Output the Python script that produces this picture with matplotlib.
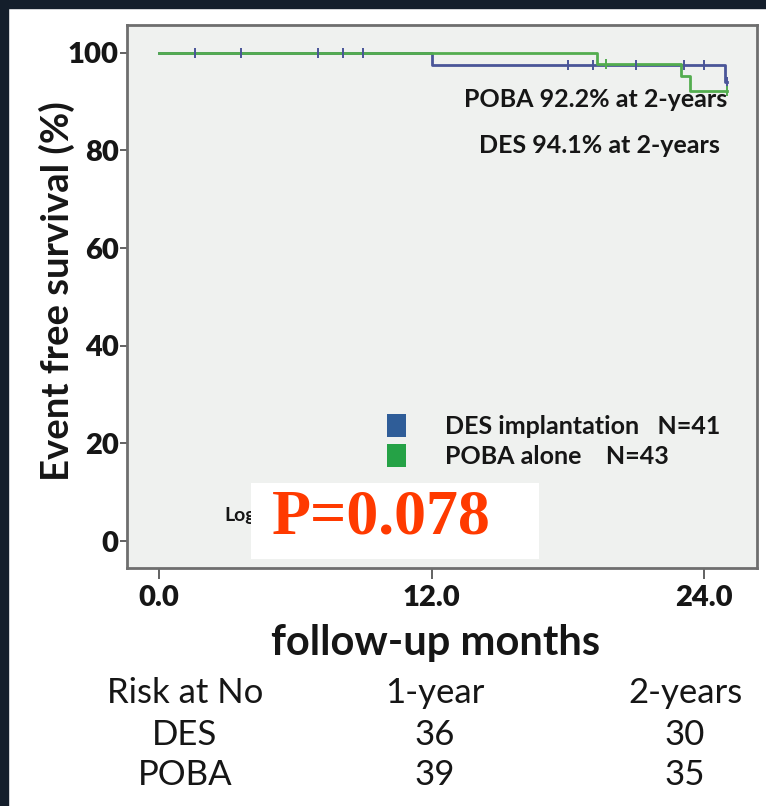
"""Kaplan-Meier event-free survival: DES implantation vs POBA alone."""
import matplotlib
matplotlib.use("Agg")
import matplotlib.pyplot as plt
from matplotlib.patches import Patch, Rectangle

W, H = 766, 806

BLUE = "#4a5598"
GREEN = "#53ad4f"
BLUE_SQ = "#2f5d98"
GREEN_SQ = "#25a246"
RED = "#ff3a00"
DARK = "#141e2b"
INK = "#161616"

# step curves (months, % event free)
des_time = [0.0, 12.0, 24.9, 25.0]
des_surv = [100.0, 97.6, 94.1, 94.1]
poba_time = [0.0, 19.3, 23.0, 23.4, 25.0]
poba_surv = [100.0, 97.7, 95.3, 92.2, 92.2]

# censored observations
des_cens_t = [1.6, 3.6, 7.0, 8.1, 9.0, 18.0, 19.1, 21.0, 23.1, 24.0, 25.0]
des_cens_s = [100, 100, 100, 100, 100, 97.6, 97.6, 97.6, 97.6, 97.6, 94.1]
poba_cens_t = [19.7, 25.0]
poba_cens_s = [97.7, 92.2]

x_ticks = [0.0, 12.0, 24.0]
y_ticks = [0, 20, 40, 60, 80, 100]

legend_labels = ["DES implantation   N=41", "POBA alone    N=43"]
notes = ["POBA 92.2% at 2-years", "DES 94.1% at 2-years"]

risk_header = ["Risk at No", "1-year", "2-years"]
risk_groups = ["DES", "POBA"]
risk_1y = [36, 39]
risk_2y = [30, 35]

FONT = "Lato"


def fx(x):
    return x / W


def fy(y):
    return 1 - y / H


fig = plt.figure(figsize=(W / 100, H / 100), dpi=100)
fig.patch.set_facecolor("white")

# dark frame on top and left
fig.patches.append(Rectangle((0, fy(8)), 1, 8 / H, transform=fig.transFigure,
                             color=DARK, zorder=0))
fig.patches.append(Rectangle((0, 0), 8 / W, 1, transform=fig.transFigure,
                             color=DARK, zorder=0))

ax = fig.add_axes([fx(127), fy(568), (757 - 127) / W, (568 - 25) / H])
ax.set_facecolor("#eff1ef")

ax.step(des_time, des_surv, where="post", color=BLUE, lw=2.0, zorder=2)
ax.step(poba_time, poba_surv, where="post", color=GREEN, lw=2.0, zorder=3)
ax.plot(des_cens_t, des_cens_s, ls="none", marker="|", ms=7, mew=1.4,
        color=BLUE, zorder=4)
ax.plot(poba_cens_t, poba_cens_s, ls="none", marker="|", ms=7, mew=1.4,
        color=GREEN, zorder=4)

ax.set_xlim(-1.41, 26.33)
ax.set_ylim(-5.5, 105.7)
ax.set_xticks(x_ticks)
ax.set_xticklabels([f"{t:.1f}" for t in x_ticks])
ax.set_yticks(y_ticks)
ax.tick_params(axis="both", direction="out", width=1.3, color="#555555",
               labelsize=21)
ax.tick_params(axis="x", length=8, pad=4)
ax.tick_params(axis="y", length=5, pad=1)
for lab in ax.get_xticklabels() + ax.get_yticklabels():
    lab.set_fontfamily(FONT)
    lab.set_fontweight("heavy")
    lab.set_color(INK)
for sp in ax.spines.values():
    sp.set_color("#6e6e6e")
    sp.set_linewidth(2.0)

# 2-year survival notes
ax.text(25.0, 90.4, notes[0], ha="right", va="center", fontsize=18,
        fontweight="bold", family=FONT, color=INK)
ax.text(24.7, 81.1, notes[1], ha="right", va="center", fontsize=18,
        fontweight="bold", family=FONT, color=INK)

# original test label, mostly hidden under the pasted p-value box
ax.text(fx(224), fy(515), "Log-rank", transform=fig.transFigure,
        ha="left", va="center", fontsize=14, fontweight="bold", family=FONT,
        color=INK)

handles = [Patch(facecolor=BLUE_SQ, edgecolor="none"),
           Patch(facecolor=GREEN_SQ, edgecolor="none")]
leg = ax.legend(handles, legend_labels, loc="upper left",
                bbox_to_anchor=(fx(387), fy(414)), bbox_transform=fig.transFigure,
                frameon=False, borderpad=0, borderaxespad=0,
                handlelength=0.76, handleheight=1.04, handletextpad=1.56,
                labelspacing=0.24, prop={"family": FONT, "weight": "bold",
                                         "size": 18})
for t in leg.get_texts():
    t.set_color(INK)

# p-value box pasted over the chart
fig.patches.append(Rectangle((fx(251), fy(559)), (539 - 251) / W, (559 - 483) / H,
                             transform=fig.transFigure, facecolor="white",
                             edgecolor="none", zorder=1))
fig.text(fx(381), fy(519), "P=0.078", ha="center", va="center", fontsize=46,
         fontweight="bold", family="Liberation Serif", color=RED, zorder=5)

fig.text(fx(57), fy(291), "Event free survival (%)", rotation=90, ha="center",
         va="center", fontsize=27.5, fontweight="bold", family=FONT, color=INK)
fig.text(fx(436), fy(643), "follow-up months", ha="center", va="center",
         fontsize=30, fontweight="bold", family=FONT, color=INK)

# numbers at risk table
col_x = [185, 435, 685]
row_y = [693, 735, 775]
for cx, txt in zip(col_x, risk_header):
    fig.text(fx(cx), fy(row_y[0]), txt, ha="center", va="center", fontsize=25,
             family=FONT, color=INK)
for ry, grp, a, b in zip(row_y[1:], risk_groups, risk_1y, risk_2y):
    for cx, txt in zip(col_x, [grp, str(a), str(b)]):
        fig.text(fx(cx), fy(ry), txt, ha="center", va="center", fontsize=25,
                 family=FONT, color=INK)

fig.savefig("out.png", dpi=100)
